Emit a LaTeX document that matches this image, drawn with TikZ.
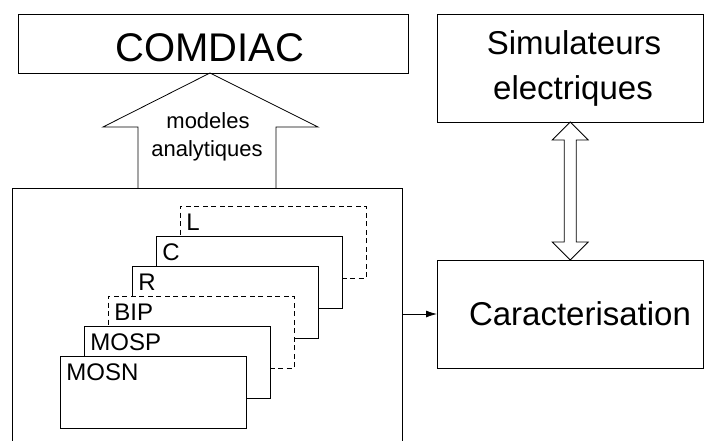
\documentclass[tikz,border=0pt]{standalone}
\usepackage{fontspec}
\setmainfont{Liberation Sans}
\usetikzlibrary{arrows.meta,calc}
\begin{document}
\begin{tikzpicture}[x=1pt,y=-1pt,line width=0.8pt,
  box/.style={draw,anchor=north west,inner sep=0pt,outer sep=0pt},
  card/.style={box,fill=white,minimum width=186pt,minimum height=72pt},
  dashcard/.style={card,dash pattern=on 5pt off 3.5pt},
  cardlabel/.style={anchor=base west,inner sep=0pt,font=\fontsize{24}{28}\selectfont},
  bigtext/.style={anchor=base,inner sep=0pt,font=\fontsize{40}{48}\selectfont},
  midtext/.style={anchor=base,inner sep=0pt,font=\fontsize{33}{40}\selectfont},
  smalltext/.style={anchor=base,inner sep=0pt,font=\fontsize{22}{27}\selectfont}]
\useasboundingbox (0,0) rectangle (704,441);

% top boxes
\node[box,minimum width=390pt,minimum height=59pt] (comdiac) at (18,14) {};
\node[bigtext] (comdiactxt) at (210,61.7) {COMDIAC};

\node[box,minimum width=266.5pt,minimum height=108pt] (sim) at (437,14) {};
\node[midtext] (sim1) at (574,55) {Simulateurs};
\node[midtext] (sim2) at (573,100) {electriques};

\node[box,minimum width=266.5pt,minimum height=108pt] (cara) at (437,260) {};
\node[midtext] (caratxt) at (580,325) {Caracterisation};

% library frame, open at the bottom
\node[anchor=north west,inner sep=0pt,outer sep=0pt,minimum width=390pt,minimum height=253pt] (lib) at (12,188) {};
\draw (lib.south west) -- (lib.north west) -- (lib.north east) -- (lib.south east);

% fat arrow towards COMDIAC
\draw ($(lib.north)+(-69,0)$) -- ++(0,-61) -- ++(-35,0)
  -- ($(comdiac.south)+(-3,0)$) -- (318,127) -- ($(lib.north)+(69,-61)$)
  -- ($(lib.north)+(69,0)$);
\node[smalltext] (mod1) at (208,128.3) {modeles};
\node[smalltext] (mod2) at (207,156.7) {analytiques};

% double arrow between simulators and characterisation
\draw (sim.south) -- ++(18,18) -- ++(-12,0) -- ($(cara.north)+(6,-18)$)
  -- ++(12,0) -- (cara.north) -- ++(-18,-18) -- ++(12,0)
  -- ($(sim.south)+(-6,18)$) -- ++(-12,0) -- cycle;

% stacked device cards, back to front
\node[dashcard] (cl) at (180,206) {};
\node[cardlabel] at ($(cl.north west)+(6,24)$) {L};
\node[card] (cc) at (156,236) {};
\node[cardlabel] at ($(cc.north west)+(6,24)$) {C};
\node[card] (cr) at (132,266) {};
\node[cardlabel] at ($(cr.north west)+(6,24)$) {R};
\node[dashcard] (cbip) at (108,296) {};
\node[cardlabel] at ($(cbip.north west)+(6,24)$) {BIP};
\node[card] (cmosp) at (84,326) {};
\node[cardlabel] at ($(cmosp.north west)+(6,24)$) {MOSP};
\node[card] (cmosn) at (60,356) {};
\node[cardlabel] at ($(cmosn.north west)+(6,24)$) {MOSN};

% link to characterisation
\draw[-{Latex[length=11pt,width=7pt]}] (cara.west -| lib.east) -- (cara.west);
\end{tikzpicture}
\end{document}
